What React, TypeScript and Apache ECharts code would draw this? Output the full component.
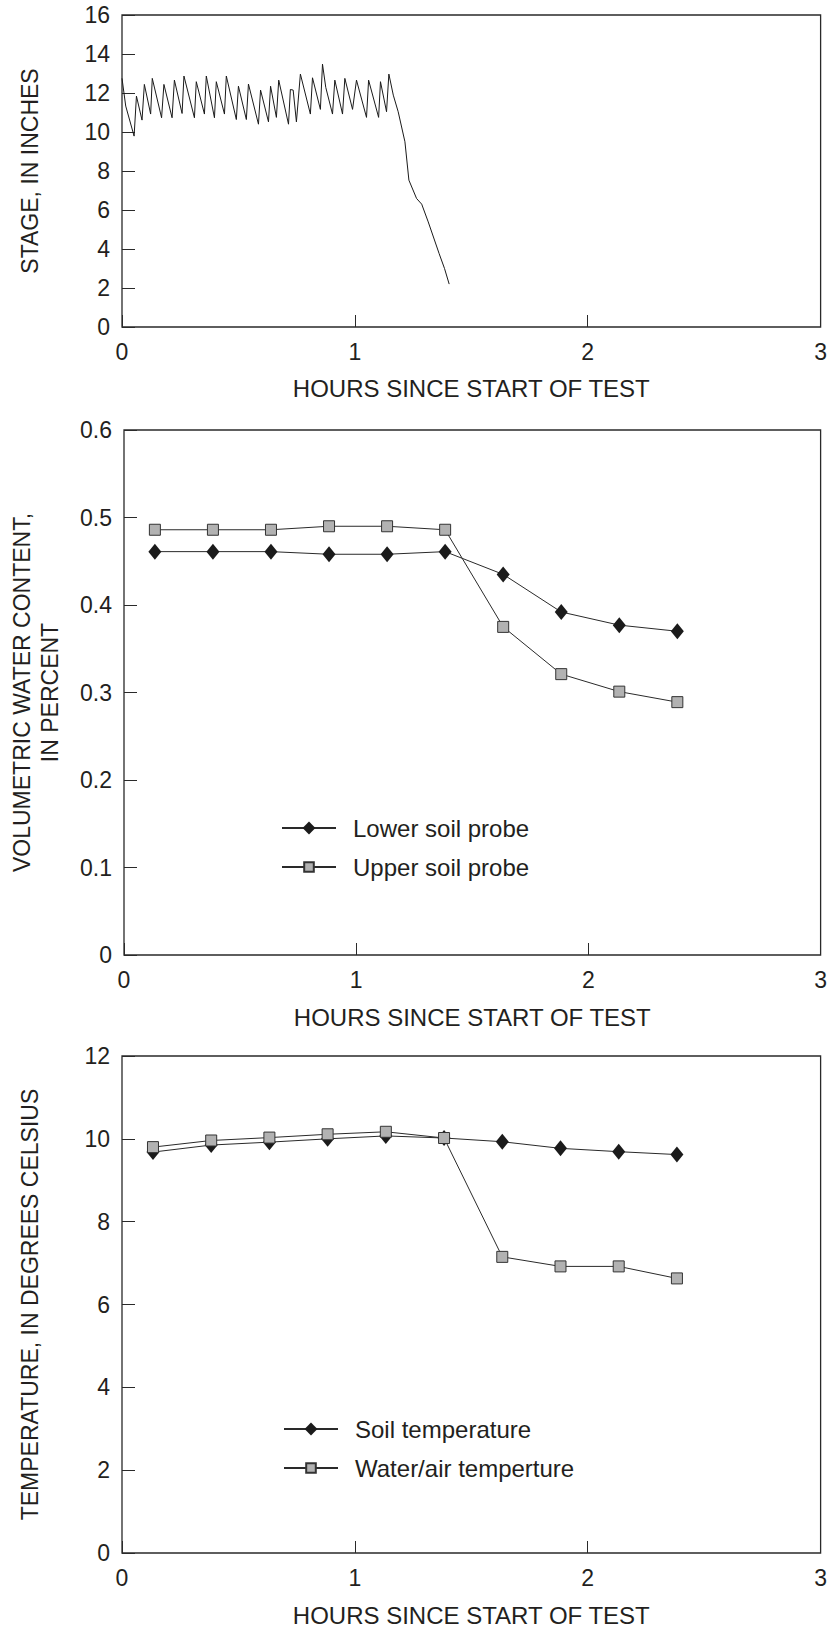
import React, { useEffect, useRef } from "react";
import * as echarts from "echarts";

// ---- Data ----
const stageHours = [
  0, 0.016, 0.052, 0.062, 0.086, 0.096, 0.123, 0.13, 0.17, 0.18, 0.215, 0.225,
  0.258, 0.266, 0.311, 0.319, 0.354, 0.362, 0.397, 0.405, 0.44, 0.448, 0.491,
  0.5, 0.534, 0.543, 0.586, 0.595, 0.629, 0.638, 0.663, 0.673, 0.715, 0.723,
  0.735, 0.749, 0.766, 0.809, 0.818, 0.852, 0.861, 0.875, 0.904, 0.914, 0.947,
  0.957, 0.99, 1.007, 1.05, 1.059, 1.102, 1.11, 1.136, 1.146, 1.165, 1.186,
  1.215, 1.232, 1.265, 1.287, 1.315, 1.362, 1.385, 1.405,
];
const stageInches = [
  12.75, 11.33, 9.79, 11.84, 10.61, 12.44, 10.92, 12.75, 10.73, 12.44, 10.73,
  12.66, 10.95, 12.87, 10.73, 12.58, 10.92, 12.87, 10.73, 12.58, 10.92, 12.87,
  10.64, 12.35, 10.64, 12.46, 10.4, 12.15, 10.52, 12.35, 10.75, 12.66, 10.4,
  12.18, 12.15, 10.52, 12.97, 10.92, 12.78, 11.16, 13.48, 12.29, 10.92, 12.66,
  10.92, 12.75, 11.16, 12.66, 10.75, 12.66, 10.75, 12.58, 11.04, 12.97, 11.89,
  11.04, 9.5, 7.53, 6.59, 6.3, 5.39, 3.76, 3.0, 2.2,
];

const probeHours = [0.133, 0.383, 0.633, 0.883, 1.133, 1.383, 1.633, 1.883, 2.133, 2.383];
const lowerSoilProbe = [0.461, 0.461, 0.461, 0.458, 0.458, 0.461, 0.435, 0.392, 0.377, 0.37];
const upperSoilProbe = [0.486, 0.486, 0.486, 0.49, 0.49, 0.486, 0.375, 0.321, 0.301, 0.289];

const soilTemperature = [9.68, 9.85, 9.92, 10.0, 10.07, 10.02, 9.93, 9.77, 9.69, 9.62];
const waterAirTemperature = [9.8, 9.96, 10.03, 10.11, 10.17, 10.02, 7.15, 6.92, 6.92, 6.63];

const xAxisTitle = "HOURS SINCE START OF TEST";
const stageTitle = "STAGE, IN INCHES";
const waterTitle = "VOLUMETRIC WATER CONTENT,\nIN PERCENT";
const tempTitle = "TEMPERATURE, IN DEGREES CELSIUS";
const lowerName = "Lower soil probe";
const upperName = "Upper soil probe";
const soilName = "Soil temperature";
const waterAirName = "Water/air temperture";

const FONT = '"Liberation Sans", Arial, Helvetica, sans-serif';
const INK = "#231f20";
const LINE = "#2a2a2a";

function pairs(xs: number[], ys: number[]) {
  return xs.map((x, i) => [x, ys[i]]);
}

function makeXAxis(gridIndex: number, nameGap: number) {
  return {
    type: "value",
    gridIndex,
    min: 0,
    max: 3,
    interval: 1,
    name: xAxisTitle,
    nameLocation: "middle",
    nameGap,
    nameTextStyle: { fontFamily: FONT, fontSize: 24, color: INK },
    axisLine: { show: false },
    axisTick: { show: true, inside: true, length: 12, lineStyle: { color: LINE, width: 1 } },
    axisLabel: {
      margin: 13,
      fontFamily: FONT,
      fontSize: 23,
      color: INK,
      showMinLabel: true,
      showMaxLabel: true,
    },
    splitLine: { show: false },
  };
}

function makeYAxis(gridIndex: number, max: number, interval: number, name: string, nameGap: number) {
  return {
    type: "value",
    gridIndex,
    min: 0,
    max,
    interval,
    name,
    nameLocation: "middle",
    nameRotate: 90,
    nameGap,
    nameTextStyle: { fontFamily: FONT, fontSize: 23, color: INK, lineHeight: 28 },
    axisLine: { show: false },
    axisTick: { show: true, inside: true, length: 13, lineStyle: { color: LINE, width: 1 } },
    axisLabel: {
      margin: 12,
      fontFamily: FONT,
      fontSize: 23,
      color: INK,
      showMinLabel: true,
      showMaxLabel: true,
    },
    splitLine: { show: false },
  };
}

const diamondSeries = (name: string, xi: number, data: number[][]) => ({
  type: "line",
  name,
  xAxisIndex: xi,
  yAxisIndex: xi,
  data,
  symbol: "diamond",
  symbolSize: [13, 16],
  itemStyle: { color: "#1b1b1b", borderWidth: 0 },
  lineStyle: { color: LINE, width: 1 },
  z: 3,
});

const squareSeries = (name: string, xi: number, data: number[][]) => ({
  type: "line",
  name,
  xAxisIndex: xi,
  yAxisIndex: xi,
  data,
  symbol: "rect",
  symbolSize: 11,
  itemStyle: { color: "#b2b2b2", borderColor: "#333", borderWidth: 1 },
  lineStyle: { color: LINE, width: 1 },
  z: 4,
});

function legendFor(name: string, left: number, top: number, itemHeight: number) {
  return {
    data: [name],
    orient: "vertical",
    left,
    top,
    padding: 0,
    itemWidth: 54,
    itemHeight,
    selectedMode: false,
    textStyle: { fontFamily: FONT, fontSize: 24, color: INK, padding: [0, 0, 0, 12] },
  };
}

export default function App() {
  const ref = useRef<HTMLDivElement>(null);

  useEffect(() => {
    if (!ref.current) return;
    const chart = echarts.init(ref.current, undefined, { renderer: "svg" });
    const gridBase = { left: 122, width: 701, show: true, borderColor: "#2a2a2a", borderWidth: 1.3, backgroundColor: "transparent" };
    chart.setOption({
      animation: false,
      backgroundColor: "#ffffff",
      grid: [
        { ...gridBase, top: 15, height: 312 },
        { ...gridBase, top: 430, height: 525 },
        { ...gridBase, top: 1056, height: 497 },
      ],
      xAxis: [makeXAxis(0, 49), makeXAxis(1, 50), makeXAxis(2, 50)],
      yAxis: [
        makeYAxis(0, 16, 2, stageTitle, 78),
        makeYAxis(1, 0.6, 0.1, waterTitle, 60),
        makeYAxis(2, 12, 2, tempTitle, 78),
      ],
      legend: [
        legendFor(lowerName, 281, 816, 16),
        legendFor(upperName, 281, 855, 12),
        legendFor(soilName, 283, 1417, 16),
        legendFor(waterAirName, 283, 1456, 12),
      ],
      series: [
        {
          type: "line",
          name: "Stage",
          xAxisIndex: 0,
          yAxisIndex: 0,
          data: pairs(stageHours, stageInches),
          symbol: "none",
          lineStyle: { color: "#1a1a1a", width: 1 },
        },
        diamondSeries(lowerName, 1, pairs(probeHours, lowerSoilProbe)),
        squareSeries(upperName, 1, pairs(probeHours, upperSoilProbe)),
        diamondSeries(soilName, 2, pairs(probeHours, soilTemperature)),
        squareSeries(waterAirName, 2, pairs(probeHours, waterAirTemperature)),
      ],
    });
    return () => chart.dispose();
  }, []);

  return (
    <div
      ref={ref}
      style={{ position: "absolute", left: 0, top: 0, width: 830, height: 1629, background: "#fff" }}
    />
  );
}
